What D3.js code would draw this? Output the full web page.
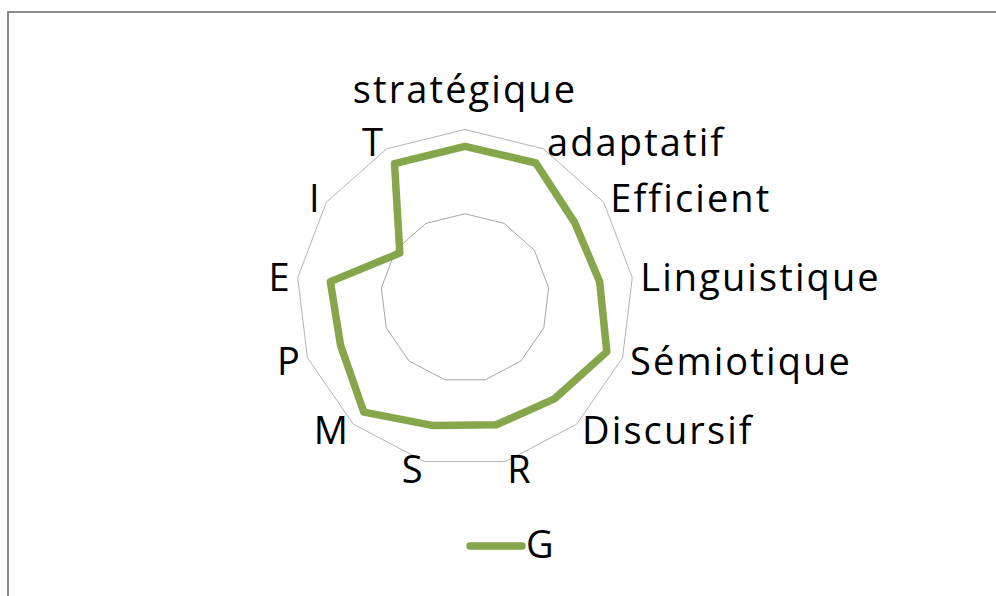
<!DOCTYPE html>
<html><head><meta charset="utf-8">
<script src="https://cdn.jsdelivr.net/npm/d3@7"></script>
<style>html,body{margin:0;padding:0;background:#fff;}svg{display:block;}</style>
</head><body>
<svg id="chart" width="996" height="596"></svg>
<script>
const categories = ["stratégique","adaptatif","Efficient","Linguistique","Sémiotique","Discursif","R","S","M","P","E","I","T"];
const seriesName = "G";
const seriesValues = [1.80,1.81,1.58,1.61,1.80,1.60,1.55,1.56,1.81,1.58,1.61,0.94,1.80];
const gridLevels = [1,2];
const maxValue = 2;

const W = 996, H = 596;
const cx = 465, cy = 298, R = 168.5;
const fontFamily = "'Open Sans', sans-serif";
const fs = 38;
const green = "#85A64A";

const svg = d3.select("#chart");
svg.append("rect").attr("x",8).attr("y",12).attr("width",W).attr("height",H)
  .attr("fill","#fff").attr("stroke","#8c8c8c").attr("stroke-width",2);

const n = categories.length;
const angle = d3.scaleLinear().domain([0,n]).range([0,2*Math.PI]);
const r = d3.scaleLinear().domain([0,maxValue]).range([0,R]);

const g = svg.append("g").attr("transform",`translate(${cx},${cy})`);

const radial = d3.lineRadial().angle((d,i)=>angle(i)).radius(d=>r(d)).curve(d3.curveLinearClosed);

g.selectAll("path.grid").data(gridLevels).join("path").attr("class","grid")
  .attr("d", lv => radial(categories.map(()=>lv)))
  .attr("fill","none").attr("stroke", (d,i)=> i===gridLevels.length-1 ? "#b4b4b4" : "#a6a6a6").attr("stroke-width",1);

g.append("path").attr("d", radial(seriesValues))
  .attr("fill","none").attr("stroke",green).attr("stroke-width",7.5).attr("stroke-linejoin","round");

const d0 = 8;
g.selectAll("text.lbl").data(categories).join("text").attr("class","lbl")
  .each(function(c,i){
    const a = angle(i), s = Math.sin(a), co = Math.cos(a);
    const px = (R+d0)*s, py = -(R+d0)*co;
    let anchor = Math.abs(s) < 0.05 ? "middle" : (s>0 ? "start" : "end");
    let by = py + 0.37*fs;
    if (anchor==="middle" && co>0) by = py - 0.48*fs;
    d3.select(this).attr("x",px + (anchor==="end" ? 2 : 0)).attr("y",by).attr("text-anchor",anchor).text(c);
  })
  .attr("font-family",fontFamily).attr("font-size",fs).attr("fill","#000")
  .attr("letter-spacing",2.1)
  .style("font-variant-ligatures","none");

const leg = svg.append("g");
leg.append("line").attr("x1",470).attr("x2",522).attr("y1",546).attr("y2",546)
  .attr("stroke",green).attr("stroke-width",7.5).attr("stroke-linecap","round");
leg.append("text").attr("x",526).attr("y",558).attr("font-family",fontFamily).attr("font-size",fs).text(seriesName);
</script>
</body></html>
